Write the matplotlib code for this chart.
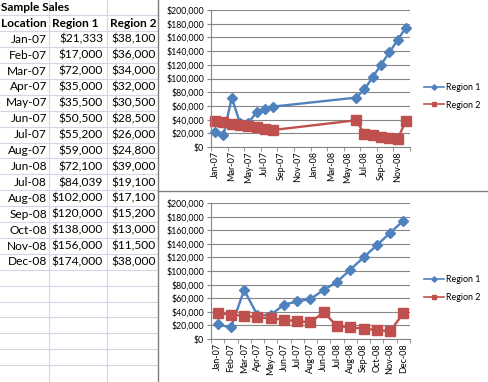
import matplotlib as mpl
mpl.use('Agg')
import matplotlib.pyplot as plt
from matplotlib.ticker import FuncFormatter, FixedLocator
from datetime import datetime

plt.rcParams['font.family'] = ['Lato', 'DejaVu Sans']

# data from the sheet
months = ['Jan-07', 'Feb-07', 'Mar-07', 'Apr-07', 'May-07', 'Jun-07', 'Jul-07', 'Aug-07',
          'Jun-08', 'Jul-08', 'Aug-08', 'Sep-08', 'Oct-08', 'Nov-08', 'Dec-08']
region1 = [21333, 17000, 72000, 35000, 35500, 50500, 55200, 59000,
           72100, 84039, 102000, 120000, 138000, 156000, 174000]
region2 = [38100, 36000, 34000, 32000, 30500, 28500, 26000, 24800,
           39000, 19100, 17100, 15200, 13000, 11500, 38000]
date_ticks = ['Jan-07', 'Mar-07', 'May-07', 'Jul-07', 'Sep-07', 'Nov-07',
              'Jan-08', 'Mar-08', 'May-08', 'Jul-08', 'Sep-08', 'Nov-08']

W, H = 489, 382
blue = '#4F81BD'
red = '#C0504D'
gray = '#868686'

fig = plt.figure(figsize=(W / 100, H / 100), dpi=100)

# sheet area drawn in pixel coords
bg = fig.add_axes([0, 0, 1, 1])
bg.set_xlim(0, W)
bg.set_ylim(H, 0)
bg.axis('off')

row_h = 15.9
col_x = [49.3, 106.7]
for k in range(1, 24):
    y = 15.3 + (k - 1) * row_h
    if y < H:
        bg.plot([0, 157.5], [y, y], color='#D0D7E5', lw=0.8)
for x in col_x:
    bg.plot([x, x], [0, H], color='#D0D7E5', lw=0.8)
bg.plot([157.5, 157.5], [0, H], color='#7F7F7F', lw=1.0)
bg.plot([157.5, W], [190.5, 190.5], color='#7F7F7F', lw=1.0)

fs = 8.6
bg.text(1, 7.5, 'Sample Sales', fontsize=fs, fontweight='bold', va='center', ha='left')
hy = 7.5 + row_h
bg.text(1, hy, 'Location', fontsize=fs, fontweight='bold', va='center', ha='left')
bg.text(52, hy, 'Region 1', fontsize=fs, fontweight='bold', va='center', ha='left')
bg.text(110, hy, 'Region 2', fontsize=fs, fontweight='bold', va='center', ha='left')
for i, (m, a, b) in enumerate(zip(months, region1, region2)):
    y = 7.5 + (i + 2) * row_h
    bg.text(47, y, m, fontsize=fs, va='center', ha='right')
    bg.text(103, y, f'${a:,}', fontsize=fs, va='center', ha='right')
    bg.text(155.5, y, f'${b:,}', fontsize=fs, va='center', ha='right')


def style_axis(ax):
    ax.set_ylim(0, 200000)
    ax.set_yticks(range(0, 200001, 20000))
    ax.yaxis.set_major_formatter(FuncFormatter(lambda v, p: f'${v:,.0f}'))
    ax.yaxis.grid(True, color=gray, lw=0.8)
    ax.set_axisbelow(True)
    for s in ['top', 'right']:
        ax.spines[s].set_visible(False)
    for s in ['left', 'bottom']:
        ax.spines[s].set_color(gray)
        ax.spines[s].set_linewidth(0.8)
    ax.tick_params(axis='y', labelsize=6.3, length=3, color=gray, pad=2)
    ax.tick_params(axis='x', which='both', labelsize=6.5, length=0, pad=3, labelrotation=90)
    ax.tick_params(axis='x', which='minor', length=3, color=gray)


def add_series(ax, x):
    ax.plot(x, region1, color=blue, lw=1.7, marker='D', ms=5.5, label='Region 1', clip_on=False)
    ax.plot(x, region2, color=red, lw=1.7, marker='s', ms=6.5, label='Region 2', clip_on=False)
    leg = ax.legend(loc='center left', bbox_to_anchor=(1.04, 0.37), frameon=False, fontsize=6.4,
                    handlelength=2.2, markerscale=0.5, labelspacing=0.95, handletextpad=0.25,
                    borderpad=0.2)
    for line in leg.get_lines():
        line.set_linewidth(1.2)


# top chart: date axis
ax1 = fig.add_axes([211 / W, 1 - 147 / H, 199 / W, 137 / H])
base = datetime.strptime(months[0], '%b-%y')
pos = []
for m in months:
    d = datetime.strptime(m, '%b-%y')
    pos.append((d.year - base.year) * 12 + d.month - base.month)
style_axis(ax1)
add_series(ax1, pos)
ax1.set_xlim(-0.5, 23.5)
ax1.set_xticks([2 * i for i in range(len(date_ticks))])
ax1.set_xticklabels(date_ticks)
ax1.xaxis.set_minor_locator(FixedLocator([2 * i - 0.5 for i in range(13)]))

# bottom chart: category axis
ax2 = fig.add_axes([211 / W, 1 - 339 / H, 199 / W, 136 / H])
style_axis(ax2)
add_series(ax2, range(len(months)))
ax2.set_xlim(-0.5, len(months) - 0.5)
ax2.set_xticks(range(len(months)))
ax2.set_xticklabels(months)
ax2.xaxis.set_minor_locator(FixedLocator([i - 0.5 for i in range(len(months) + 1)]))

fig.savefig('out.png', dpi=100)
